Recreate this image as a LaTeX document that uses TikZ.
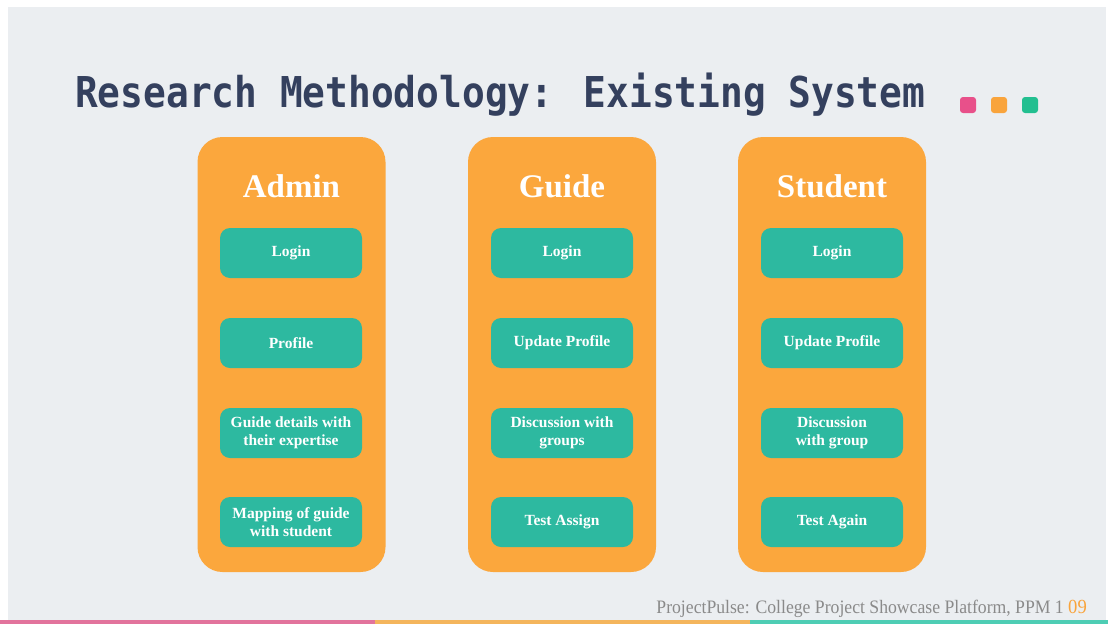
\documentclass[tikz,border=0pt]{standalone}
\usepackage{fontspec}
\setmainfont{Liberation Serif}
\newfontfamily\titlefont[FakeStretch=0.89]{DejaVu Sans Mono}
\newfontfamily\footfont[FakeStretch=0.93]{Liberation Serif}
\definecolor{bgGray}{HTML}{EBEEF1}
\definecolor{navy}{HTML}{34405E}
\definecolor{colOrange}{HTML}{FBA73D}
\definecolor{colTeal}{HTML}{2DB9A0}
\definecolor{sqPink}{HTML}{E8508A}
\definecolor{sqOrange}{HTML}{F9A43C}
\definecolor{sqTeal}{HTML}{22BF90}
\definecolor{stPink}{HTML}{E2739C}
\definecolor{stOrange}{HTML}{F4B55C}
\definecolor{stTeal}{HTML}{4ECDB4}
\definecolor{footGray}{HTML}{8A8A8A}
\tikzset{
  column/.style={fill=colOrange, rounded corners=25pt, minimum width=188pt,
    minimum height=435pt, inner sep=0pt},
  header/.style={text=white, inner sep=0pt, anchor=base,
    font=\fontsize{33}{36}\selectfont\bfseries},
  item/.style={fill=colTeal, rounded corners=10pt, minimum width=142pt,
    minimum height=50pt, inner sep=0pt, align=center, text=white,
    font=\fontsize{15.5}{18}\selectfont\bfseries},
  marker/.style={rounded corners=3pt, minimum size=16pt, inner sep=0pt},
}
\begin{document}
\begin{tikzpicture}[x=1pt,y=-1pt]
  % page and slide background
  \fill[white] (0,0) rectangle (1108,624);
  \fill[bgGray] (8,7) rectangle (1106,624);
  \useasboundingbox (0,0) rectangle (1108,624);

  % title
  \node[anchor=base west, inner sep=0pt, text=navy,
        font=\titlefont\fontsize{42.5}{46}\selectfont\bfseries] (title) at (75,107)
        {Research Methodology: Existing System};

  % three coloured markers after the title
  \node[marker, fill=sqPink]   (m1) at (968,105) {};
  \node[marker, fill=sqOrange] (m2) at (999,105) {};
  \node[marker, fill=sqTeal]   (m3) at (1030,105) {};

  % columns
  \node[column] (colA) at (291.5,354.5) {};
  \node[column] (colG) at (562,354.5) {};
  \node[column] (colS) at (832,354.5) {};

  \node[header] (hA) at (291.5,197) {Admin};
  \node[header] (hG) at (562,197) {Guide};
  \node[header] (hS) at (832,197) {Student};

  % Admin items
  \node[item] (a1) at (291,253) {Login};
  \node[item] (a2) at (291,343) {Profile};
  \node[item] (a3) at (291,433) {Guide details with\\their expertise};
  \node[item] (a4) at (291,522) {Mapping of guide\\with student};

  % Guide items
  \node[item] (g1) at (562,253) {Login};
  \node[item] (g2) at (562,343) {Update Profile};
  \node[item] (g3) at (562,433) {Discussion with\\groups};
  \node[item] (g4) at (562,522) {Test Assign};

  % Student items
  \node[item] (s1) at (832,253) {Login};
  \node[item] (s2) at (832,343) {Update Profile};
  \node[item] (s3) at (832,433) {Discussion\\with group};
  \node[item] (s4) at (832,522) {Test Again};

  % footer
  \node[anchor=base east, inner sep=0pt, text=footGray,
        font=\footfont\fontsize{19}{21}\selectfont] (foot) at (1064,613)
        {ProjectPulse: College Project Showcase Platform, PPM 1};
  \node[anchor=base west, inner sep=0pt, text=sqOrange,
        font=\footfont\fontsize{20}{22}\selectfont] (page) at (1068,613) {09};

  % bottom stripe
  \fill[stPink]   (0,619.5) rectangle (375,624);
  \fill[stOrange] (375,619.5) rectangle (750,624);
  \fill[stTeal]   (750,619.5) rectangle (1108,624);
\end{tikzpicture}
\end{document}
